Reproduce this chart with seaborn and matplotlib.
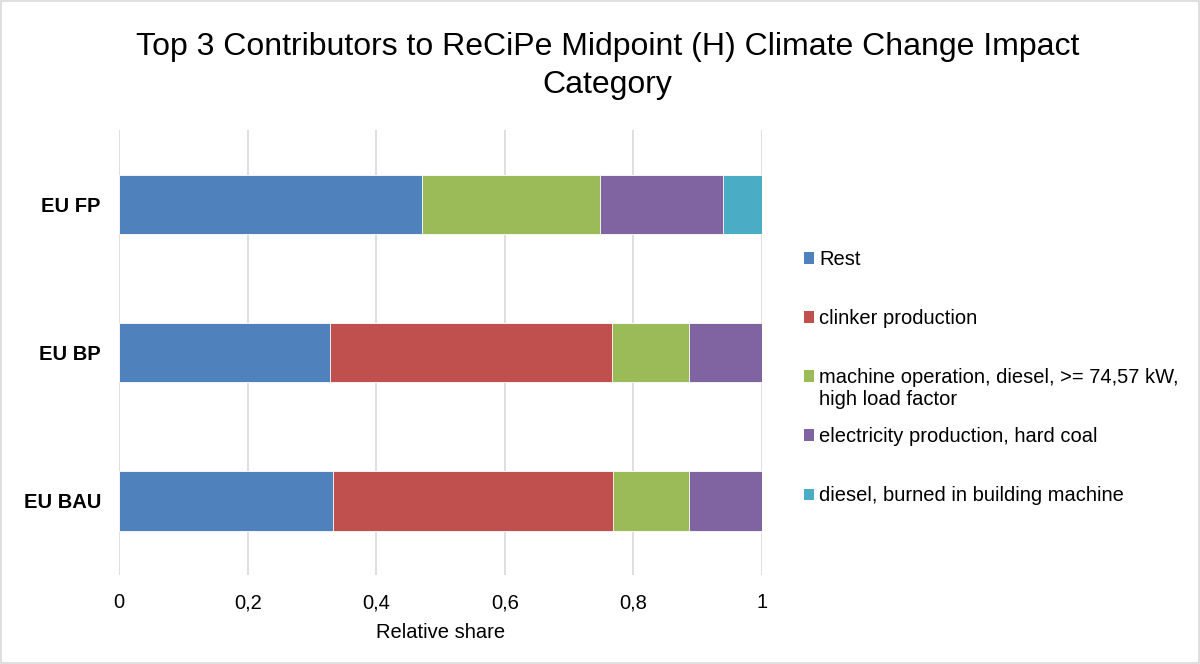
import matplotlib
matplotlib.use("Agg")
import matplotlib.pyplot as plt
import matplotlib.patches as mpatches
import numpy as np
import seaborn as sns

scenarios = ["EU FP", "EU BP", "EU BAU"]
contributors = [
    "Rest",
    "clinker production",
    "machine operation, diesel, >= 74,57 kW,",
    "electricity production, hard coal",
    "diesel, burned in building machine",
]
contributor3_line2 = "high load factor"
rest = [0.471, 0.328, 0.333]
clinker = [0.000, 0.439, 0.436]
machine = [0.277, 0.120, 0.118]
electricity = [0.192, 0.113, 0.113]
diesel = [0.060, 0.000, 0.000]
colors = ["#4F81BD", "#C0504D", "#9BBB59", "#8064A2", "#4BACC6"]
xticks = [0, 0.2, 0.4, 0.6, 0.8, 1.0]
xticklabels = ["0", "0,2", "0,4", "0,6", "0,8", "1"]

sns.set_theme(style="white")
plt.rcParams["font.family"] = ["Liberation Sans", "DejaVu Sans"]
plt.rcParams["text.color"] = "black"
plt.rcParams["axes.labelcolor"] = "black"
plt.rcParams["xtick.color"] = "black"
plt.rcParams["ytick.color"] = "black"

fig = plt.figure(figsize=(12, 6.64), dpi=100)
ax = fig.add_axes([0.0992, 0.134, 0.5358, 0.670])

series = [rest, clinker, machine, electricity, diesel]
cum = np.cumsum(np.array(series), axis=0)

for i in reversed(range(len(series))):
    sns.barplot(x=cum[i], y=scenarios, color=colors[i], orient="h", width=0.4,
                ax=ax, edgecolor="white", linewidth=0.6, saturation=1, zorder=3)

ax.set_xlim(0, 1)
ax.set_ylim(2.5, -0.5)
ax.set_xticks(xticks)
ax.set_xticklabels(xticklabels, fontsize=14.5)
ax.tick_params(axis="both", length=0)
ax.tick_params(axis="x", pad=13)
ax.set_yticks(range(len(scenarios)))
ax.set_yticklabels(scenarios, fontsize=14.5, fontweight="bold")
ax.tick_params(axis="y", pad=13)
ax.xaxis.grid(True, color="#d9d9d9", linewidth=1.2, zorder=0)
ax.yaxis.grid(False)
ax.set_axisbelow(True)
for s in ax.spines.values():
    s.set_visible(False)
ax.set_xlabel("Relative share", fontsize=14.5, labelpad=8)
ax.set_ylabel("")

fig.suptitle("Top 3 Contributors to ReCiPe Midpoint (H) Climate Change Impact\nCategory",
             fontsize=23, y=0.952, x=0.506, linespacing=1.37)

handles = [mpatches.Patch(facecolor=c, edgecolor="none") for c in colors]
leg = fig.legend(handles, contributors, loc="upper left", bbox_to_anchor=(0.655, 0.6506),
                 frameon=False, fontsize=14.5, handlelength=0.5, handleheight=0.5,
                 handletextpad=0.25, labelspacing=1.99)

fig.canvas.draw()
t3 = leg.get_texts()[2]
bb = t3.get_window_extent()
W, H = fig.bbox.width, fig.bbox.height
fig.text(bb.x0 / W, ((bb.y0 + bb.y1) / 2 - 22) / H, contributor3_line2,
         fontsize=14.5, ha="left", va="center")

fig.patches.append(mpatches.Rectangle((0.001, 0.002), 0.998, 0.996, transform=fig.transFigure,
                                      fill=False, edgecolor="#d9d9d9", linewidth=1.2))

fig.savefig("out.png", dpi=100)
